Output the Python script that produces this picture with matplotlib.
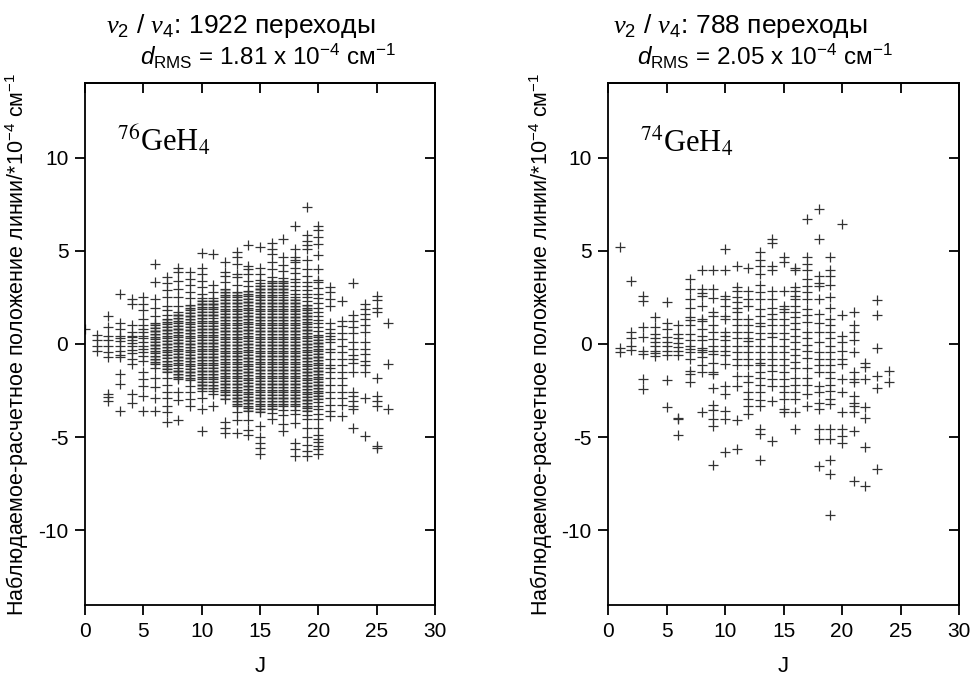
import numpy as np
import matplotlib.pyplot as plt
from matplotlib import rcParams

# Origin-like look: Arial-ish text, Times-like labels for the isotopologue
rcParams['font.family'] = ['Liberation Sans', 'DejaVu Sans']
rcParams['mathtext.fontset'] = 'custom'
rcParams['mathtext.rm'] = 'Liberation Sans'
rcParams['mathtext.it'] = 'Liberation Sans:italic'
rcParams['mathtext.cal'] = 'Liberation Serif:italic'
rcParams['axes.unicode_minus'] = False


# residuals (obs - calc, 1e-4 cm-1) read column by column, one list per J
j76 = [0, 1, 2, 3, 4, 5, 6, 7, 8, 9, 10, 11, 12, 13,
       14, 15, 16, 17, 18, 19, 20, 21, 22, 23, 24, 25, 26]
res76 = [
    [0.8],
    [0.5, 0.2, -0.1, -0.4],
    [1.5, 0.9, 0.45, 0.2, -0.1, -0.45, -0.7, -2.7, -2.85, -3.05],
    [2.7, 1.15, 0.8, 0.45, 0.3, 0.15, -0.1, -0.35, -0.6, -0.7, -1.6, -2.15, -3.6],
    [2.4, 2.15, 1.0, 0.65, 0.45, 0.35, 0.2, 0.05, -0.1, -0.3, -0.5, -0.8, -1.1, -2.7, -3.15],
    [2.5, 2.15, 1.8, 1.35, 1.0, 0.8, 0.65, 0.45, 0.3, 0.1, -0.1, -0.25, -0.45, -0.65, -0.9,
     -1.5, -1.9, -2.25, -2.8, -3.6],
    [4.3, 3.3, 2.4, 1.95, 1.5, 1.15, 1.0, 0.85, 0.7, 0.55, 0.4, 0.25, 0.1, -0.05, -0.2,
     -0.35, -0.5, -0.65, -0.8, -0.95, -1.1, -1.3, -1.8, -2.3, -2.9, -3.6],
    [3.6, 3.25, 2.9, 2.5, 2.05, 1.8, 1.55, 1.35, 1.2, 1.05, 0.9, 0.75, 0.6, 0.45, 0.3, 0.15,
     0.0, -0.15, -0.3, -0.45, -0.6, -0.75, -0.9, -1.05, -1.2, -1.35, -1.5, -1.85, -2.2,
     -2.55, -2.9, -3.3, -3.65, -4.2],
    [4.05, 3.85, 3.4, 2.95, 2.5, 2.05, 1.7, 1.55, 1.4, 1.25, 1.1, 0.95, 0.8, 0.65, 0.5, 0.35,
     0.2, 0.05, -0.1, -0.25, -0.4, -0.55, -0.7, -0.85, -1.0, -1.15, -1.3, -1.45, -1.6, -1.75,
     -1.9, -2.6, -3.0, -4.1],
    [3.85, 3.5, 3.15, 2.8, 2.45, 2.1, 1.95, 1.8, 1.65, 1.5, 1.35, 1.2, 1.05, 0.9, 0.75, 0.6,
     0.45, 0.3, 0.15, 0.0, -0.15, -0.3, -0.45, -0.6, -0.75, -0.9, -1.05, -1.2, -1.35, -1.5,
     -1.65, -1.8, -1.95, -2.25, -2.6, -2.95, -3.3],
    [4.9, 4.1, 3.75, 3.4, 3.05, 2.7, 2.45, 2.3, 2.15, 2.0, 1.85, 1.7, 1.55, 1.4, 1.25, 1.1,
     0.95, 0.8, 0.65, 0.5, 0.35, 0.2, 0.05, -0.1, -0.25, -0.4, -0.55, -0.7, -0.85, -1.0,
     -1.15, -1.3, -1.45, -1.6, -1.75, -1.9, -2.05, -2.2, -2.35, -2.5, -2.9, -3.5, -4.65],
    [4.85, 3.15, 2.8, 2.45, 2.3, 2.15, 2.0, 1.85, 1.7, 1.55, 1.4, 1.25, 1.1, 0.95, 0.8, 0.65,
     0.5, 0.35, 0.2, 0.05, -0.1, -0.25, -0.4, -0.55, -0.7, -0.85, -1.0, -1.15, -1.3, -1.45,
     -1.6, -1.75, -1.9, -2.05, -2.2, -2.35, -2.5, -2.7, -3.3],
    [4.4, 3.85, 3.65, 3.3, 2.95, 2.8, 2.65, 2.5, 2.35, 2.2, 2.05, 1.9, 1.75, 1.6, 1.45, 1.3,
     1.15, 1.0, 0.85, 0.7, 0.55, 0.4, 0.25, 0.1, -0.05, -0.2, -0.35, -0.5, -0.65, -0.8,
     -0.95, -1.1, -1.25, -1.4, -1.55, -1.7, -1.85, -2.0, -2.15, -2.3, -2.45, -2.6, -2.75,
     -2.95, -4.2, -4.5, -4.75],
    [4.95, 4.65, 4.3, 3.75, 3.6, 3.15, 2.8, 2.65, 2.5, 2.35, 2.2, 2.05, 1.9, 1.75, 1.6, 1.45,
     1.3, 1.15, 1.0, 0.85, 0.7, 0.55, 0.4, 0.25, 0.1, -0.05, -0.2, -0.35, -0.5, -0.65, -0.8,
     -0.95, -1.1, -1.25, -1.4, -1.55, -1.7, -1.85, -2.0, -2.15, -2.3, -2.45, -2.6, -2.75,
     -2.9, -3.05, -3.2, -3.35, -3.65, -4.1, -4.75],
    [5.3, 4.2, 4.0, 3.75, 3.4, 3.1, 2.85, 2.7, 2.55, 2.4, 2.25, 2.1, 1.95, 1.8, 1.65, 1.5,
     1.35, 1.2, 1.05, 0.9, 0.75, 0.6, 0.45, 0.3, 0.15, 0.0, -0.15, -0.3, -0.45, -0.6, -0.75,
     -0.9, -1.05, -1.2, -1.35, -1.5, -1.65, -1.8, -1.95, -2.1, -2.25, -2.4, -2.55, -2.7,
     -2.85, -3.0, -3.15, -3.3, -3.45, -3.6, -4.1, -4.6, -4.9],
    [5.2, 4.05, 3.75, 3.45, 3.25, 3.1, 2.95, 2.8, 2.65, 2.5, 2.35, 2.2, 2.05, 1.9, 1.75, 1.6,
     1.45, 1.3, 1.15, 1.0, 0.85, 0.7, 0.55, 0.4, 0.25, 0.1, -0.05, -0.2, -0.35, -0.5, -0.65,
     -0.8, -0.95, -1.1, -1.25, -1.4, -1.55, -1.7, -1.85, -2.0, -2.15, -2.3, -2.45, -2.6,
     -2.75, -2.9, -3.05, -3.2, -3.35, -3.5, -3.65, -4.4, -5.0, -5.3, -5.6, -5.9],
    [5.4, 5.1, 4.85, 4.4, 4.0, 3.6, 3.4, 3.25, 3.1, 2.95, 2.8, 2.65, 2.5, 2.35, 2.2, 2.05,
     1.9, 1.75, 1.6, 1.45, 1.3, 1.15, 1.0, 0.85, 0.7, 0.55, 0.4, 0.25, 0.1, -0.05, -0.2,
     -0.35, -0.5, -0.65, -0.8, -0.95, -1.1, -1.25, -1.4, -1.55, -1.7, -1.85, -2.0, -2.15,
     -2.3, -2.45, -2.6, -2.75, -2.9, -3.05, -3.2, -3.35, -3.5, -3.7, -4.05],
    [5.65, 4.65, 4.25, 3.9, 3.55, 3.4, 3.25, 3.1, 2.95, 2.8, 2.65, 2.5, 2.35, 2.2, 2.05, 1.9,
     1.75, 1.6, 1.45, 1.3, 1.15, 1.0, 0.85, 0.7, 0.55, 0.4, 0.25, 0.1, -0.05, -0.2, -0.35,
     -0.5, -0.65, -0.8, -0.95, -1.1, -1.25, -1.4, -1.55, -1.7, -1.85, -2.0, -2.15, -2.3,
     -2.45, -2.6, -2.75, -2.9, -3.05, -3.2, -3.35, -3.55, -3.8, -4.3, -4.65],
    [6.35, 5.1, 4.65, 4.5, 4.4, 4.1, 3.8, 3.5, 3.3, 3.1, 2.9, 2.7, 2.5, 2.35, 2.2, 2.05, 1.9,
     1.75, 1.6, 1.45, 1.3, 1.15, 1.0, 0.85, 0.7, 0.55, 0.4, 0.25, 0.1, -0.05, -0.2, -0.35,
     -0.5, -0.65, -0.8, -0.95, -1.1, -1.25, -1.4, -1.55, -1.7, -1.85, -2.0, -2.15, -2.3,
     -2.45, -2.6, -2.75, -2.9, -3.05, -3.2, -3.35, -3.55, -3.75, -4.25, -5.3, -5.65, -6.0],
    [7.35, 5.85, 5.55, 5.3, 5.1, 4.5, 4.0, 3.65, 3.3, 3.1, 2.9, 2.7, 2.5, 2.3, 2.1, 1.95,
     1.8, 1.65, 1.5, 1.35, 1.2, 1.05, 0.9, 0.75, 0.6, 0.45, 0.3, 0.15, 0.0, -0.15, -0.3,
     -0.45, -0.6, -0.75, -0.9, -1.05, -1.2, -1.35, -1.5, -1.65, -1.8, -1.95, -2.1, -2.25,
     -2.4, -2.55, -2.7, -2.85, -3.0, -3.15, -3.3, -3.45, -3.6, -3.8, -4.05, -4.5, -5.0,
     -5.4, -5.75, -6.0],
    [6.35, 6.1, 5.75, 5.35, 4.75, 4.0, 3.45, 3.3, 3.0, 2.7, 2.45, 2.2, 1.95, 1.7, 1.5, 1.3,
     1.1, 0.9, 0.7, 0.5, 0.35, 0.2, 0.05, -0.1, -0.25, -0.4, -0.55, -0.7, -0.85, -1.0,
     -1.15, -1.3, -1.45, -1.6, -1.75, -1.9, -2.05, -2.2, -2.35, -2.5, -2.65, -2.8, -2.95,
     -3.1, -3.3, -3.5, -3.75, -4.0, -4.5, -4.9, -5.1, -5.25, -5.45, -5.65, -5.9],
    [3.05, 2.8, 2.4, 2.05, 1.15, 0.8, 0.6, 0.45, 0.25, 0.1, -0.25, -0.45, -0.8, -1.15, -1.3,
     -1.5, -1.85, -2.2, -2.55, -2.9, -3.25, -3.6, -3.85],
    [2.3, 1.25, 0.95, 0.6, 0.25, -0.1, -0.45, -0.8, -1.15, -1.5, -1.85, -2.2, -2.55, -2.9,
     -3.25, -3.85],
    [3.25, 1.55, 1.25, 0.9, 0.6, 0.1, -0.25, -0.6, -0.8, -1.0, -1.5, -2.6, -2.8, -3.05,
     -3.3, -3.5, -4.5],
    [2.15, 1.9, 1.6, 1.35, 1.0, 0.65, 0.1, -0.25, -0.55, -0.9, -1.15, -1.5, -2.9, -4.95],
    [2.6, 2.35, 1.95, 1.7, -1.8, -2.8, -3.05, -3.3, -5.45, -5.6],
    [1.1, -1.05, -3.5],
]

# the crowded middle of the 76GeH4 columns: further transitions that sit
# between the ones above (they merge into the grey blocks)
j76_core = [6, 7, 8, 9, 10, 11, 12, 13, 14, 15, 16, 17, 18, 19, 20]
res76_core = [
    [1.075, 0.925, 0.775, 0.625, 0.475, 0.325, 0.175, 0.025, -0.125, -0.275, -0.425,
     -0.725, -0.875, -1.025],
    [1.275, 1.125, 0.975, 0.825, 0.675, 0.525, 0.375, 0.225, 0.075, -0.075, -0.225,
     -0.375, -0.525, -0.675, -0.975, -1.125, -1.275, -1.425],
    [1.625, 1.475, 1.325, 1.175, 1.025, 0.875, 0.725, 0.575, 0.425, 0.275, 0.125, -0.025,
     -0.175, -0.325, -0.475, -0.625, -0.775, -0.925, -1.075, -1.375, -1.525, -1.675,
     -1.825],
    [2.025, 1.875, 1.725, 1.575, 1.425, 1.275, 1.125, 0.975, 0.825, 0.675, 0.525, 0.375,
     0.225, 0.075, -0.075, -0.225, -0.375, -0.525, -0.675, -0.825, -0.975, -1.125,
     -1.275, -1.425, -1.575, -1.725, -1.875],
    [2.375, 2.225, 2.075, 1.925, 1.775, 1.625, 1.475, 1.325, 1.175, 1.025, 0.875, 0.725,
     0.575, 0.425, 0.275, 0.125, -0.025, -0.175, -0.325, -0.475, -0.625, -0.775, -0.925,
     -1.075, -1.225, -1.375, -1.525, -1.675, -1.825, -1.975, -2.125, -2.275, -2.425],
    [2.375, 2.225, 2.075, 1.925, 1.775, 1.625, 1.475, 1.175, 1.025, 0.875, 0.725, 0.575,
     0.425, 0.275, 0.125, -0.025, -0.175, -0.325, -0.475, -0.625, -0.775, -0.925, -1.075,
     -1.225, -1.375, -1.525, -1.675, -1.825, -1.975, -2.275, -2.425],
    [2.875, 2.725, 2.575, 2.425, 2.275, 2.125, 1.975, 1.825, 1.675, 1.525, 1.375, 1.225,
     1.075, 0.925, 0.775, 0.625, 0.475, 0.325, 0.175, 0.025, -0.125, -0.275, -0.425,
     -0.575, -0.725, -0.875, -1.025, -1.175, -1.325, -1.475, -1.625, -1.775, -1.925,
     -2.075, -2.225, -2.375, -2.525, -2.675, -2.875],
    [2.725, 2.575, 2.425, 2.275, 2.125, 1.975, 1.825, 1.675, 1.525, 1.375, 1.225, 1.075,
     0.925, 0.775, 0.625, 0.475, 0.325, 0.175, 0.025, -0.125, -0.275, -0.425, -0.575,
     -0.725, -0.875, -1.025, -1.175, -1.325, -1.475, -1.625, -1.775, -1.925, -2.075,
     -2.225, -2.375, -2.525, -2.675, -2.825, -2.975, -3.125, -3.275],
    [2.775, 2.625, 2.475, 2.325, 2.175, 2.025, 1.875, 1.725, 1.575, 1.425, 1.275, 1.125,
     0.975, 0.825, 0.675, 0.525, 0.375, 0.225, 0.075, -0.075, -0.225, -0.375, -0.525,
     -0.675, -0.825, -0.975, -1.125, -1.275, -1.425, -1.575, -1.725, -1.875, -2.025,
     -2.175, -2.325, -2.475, -2.625, -2.775, -2.925, -3.075, -3.225, -3.375, -3.525],
    [3.175, 3.025, 2.875, 2.725, 2.575, 2.425, 2.275, 2.125, 1.975, 1.825, 1.675, 1.525,
     1.375, 1.225, 1.075, 0.925, 0.775, 0.625, 0.475, 0.325, 0.175, 0.025, -0.125, -0.275,
     -0.425, -0.575, -0.725, -0.875, -1.025, -1.175, -1.325, -1.475, -1.625, -1.775,
     -1.925, -2.075, -2.225, -2.375, -2.525, -2.675, -2.825, -2.975, -3.125, -3.275,
     -3.425, -3.575],
    [3.325, 3.175, 3.025, 2.875, 2.725, 2.575, 2.425, 2.275, 2.125, 1.975, 1.825, 1.675,
     1.525, 1.375, 1.225, 1.075, 0.925, 0.775, 0.625, 0.475, 0.325, 0.175, 0.025, -0.125,
     -0.275, -0.425, -0.575, -0.725, -0.875, -1.025, -1.175, -1.325, -1.475, -1.625,
     -1.775, -1.925, -2.075, -2.225, -2.375, -2.525, -2.675, -2.825, -2.975, -3.125,
     -3.275, -3.425],
    [3.325, 3.175, 3.025, 2.875, 2.725, 2.425, 2.275, 2.125, 1.975, 1.825, 1.675, 1.525,
     1.375, 1.225, 1.075, 0.925, 0.775, 0.625, 0.475, 0.325, 0.175, 0.025, -0.125, -0.275,
     -0.425, -0.575, -0.725, -0.875, -1.025, -1.175, -1.325, -1.475, -1.625, -1.775,
     -1.925, -2.075, -2.225, -2.375, -2.525, -2.675, -2.825, -2.975, -3.125, -3.275],
    [2.425, 2.275, 2.125, 1.975, 1.825, 1.675, 1.525, 1.375, 1.225, 1.075, 0.925, 0.775,
     0.625, 0.475, 0.325, 0.175, 0.025, -0.125, -0.275, -0.425, -0.575, -0.725, -0.875,
     -1.025, -1.175, -1.325, -1.475, -1.625, -1.775, -1.925, -2.075, -2.225, -2.375,
     -2.525, -2.675, -2.825, -2.975, -3.125, -3.275],
    [2.025, 1.875, 1.725, 1.575, 1.425, 1.275, 1.125, 0.975, 0.825, 0.675, 0.525, 0.375,
     0.225, 0.075, -0.075, -0.225, -0.375, -0.525, -0.675, -0.825, -0.975, -1.125, -1.275,
     -1.425, -1.575, -1.725, -1.875, -2.025, -2.175, -2.325, -2.475, -2.625, -2.775,
     -2.925, -3.075, -3.225, -3.375, -3.525],
    [0.425, 0.275, 0.125, -0.025, -0.175, -0.325, -0.475, -0.625, -0.775, -0.925, -1.075,
     -1.225, -1.375, -1.525, -1.675, -1.825, -1.975, -2.125, -2.275, -2.425, -2.575,
     -2.725, -2.875],
]

j74 = [1, 2, 3, 4, 5, 6, 7, 8, 9, 10, 11, 12,
       13, 14, 15, 16, 17, 18, 19, 20, 21, 22, 23, 24]
res74 = [
    [5.2, -0.2, -0.45],
    [3.4, 0.65, 0.3, -0.1, -0.3],
    [2.6, 2.3, 0.9, 0.35, -0.35, -0.55, -1.9, -2.4],
    [1.45, 0.9, 0.55, 0.3, 0.1, -0.1, -0.35, -0.5, -0.65],
    [2.25, 1.15, 0.8, 0.35, 0.1, -0.1, -0.35, -0.6, -1.95, -3.4],
    [1.0, 0.55, 0.3, 0.05, -0.15, -0.35, -0.6, -3.95, -4.05, -4.9],
    [3.5, 2.95, 2.4, 1.95, 1.45, 1.3, 1.0, 0.55, 0.2, -0.1, -0.25, -0.45, -0.8, -1.45,
     -1.6, -2.05],
    [3.95, 2.95, 2.75, 2.6, 2.05, 1.35, 1.25, 0.8, 0.45, 0.2, -0.2, -0.3, -0.45, -0.7,
     -1.15, -1.5, -3.65],
    [3.95, 2.95, 2.45, 1.7, 1.5, 1.0, 0.65, 0.25, -0.1, -0.35, -0.55, -1.0, -1.5, -1.6,
     -2.35, -3.25, -3.55, -4.05, -4.4, -6.5],
    [5.1, 3.95, 2.6, 2.4, 2.05, 1.5, 1.35, 0.65, 0.45, 0.2, -0.1, -0.35, -0.6, -1.1, -2.25,
     -2.7, -3.6, -4.05, -5.8],
    [4.2, 3.05, 2.85, 2.5, 2.25, 1.95, 1.7, 1.35, 1.0, 0.65, 0.3, -0.1, -0.45, -0.8, -1.15,
     -1.7, -2.25, -4.1, -5.65],
    [4.05, 2.85, 2.4, 2.05, 1.35, 1.0, 0.65, 0.3, 0.15, -0.1, -0.45, -0.8, -1.15, -1.7,
     -2.05, -2.6, -2.95, -3.3, -3.75],
    [4.95, 4.5, 4.2, 3.75, 3.15, 2.8, 2.4, 1.9, 1.5, 1.15, 0.95, 0.6, 0.25, -0.1, -0.45,
     -0.8, -1.0, -1.15, -1.5, -1.85, -2.2, -2.6, -3.0, -3.3, -4.55, -4.85, -6.2],
    [5.65, 5.4, 4.2, 3.95, 2.85, 2.4, 1.95, 1.6, 1.35, 1.0, 0.6, 0.35, -0.1, -0.45, -0.8,
     -1.15, -1.45, -1.9, -2.25, -3.05, -5.2],
    [4.65, 4.4, 2.85, 2.05, 1.85, 1.7, 1.35, 1.0, 0.6, 0.25, -0.1, -0.45, -0.8, -1.15,
     -1.5, -1.9, -2.25, -2.6, -2.95, -3.5, -3.65],
    [4.1, 3.95, 3.05, 2.85, 2.6, 2.4, 2.05, 1.7, 1.45, 1.15, 0.8, 0.45, 0.1, -0.25, -0.6,
     -0.95, -1.3, -1.85, -2.2, -2.6, -2.95, -3.65, -4.55],
    [6.7, 4.65, 4.3, 3.95, 3.5, 3.1, 2.8, 2.4, 1.9, 1.55, 1.2, 0.65, 0.3, -0.05, -0.4,
     -0.75, -1.3, -1.85, -2.2, -2.7, -3.3],
    [7.25, 5.65, 3.65, 3.25, 3.1, 2.4, 1.6, 1.15, 0.65, 0.1, -0.45, -0.8, -1.15, -1.5,
     -2.25, -2.6, -3.15, -3.5, -4.55, -5.1, -6.55],
    [4.65, 3.95, 3.65, 3.15, 2.5, 1.95, 1.35, 1.0, 0.65, 0.3, -0.1, -0.45, -0.8, -1.15,
     -1.5, -1.85, -2.2, -2.5, -2.95, -3.2, -4.55, -5.1, -6.25, -7.0, -9.15],
    [6.45, 1.55, 0.45, 0.1, -0.35, -0.8, -1.1, -1.9, -2.6, -3.65, -4.55, -4.95, -5.3],
    [1.7, 1.0, 0.65, 0.2, -0.45, -1.5, -1.9, -2.05, -2.8, -3.15, -3.3, -3.65, -4.65, -7.35],
    [-1.0, -1.25, -1.9, -3.4, -3.95, -5.55, -7.6],
    [2.35, 1.55, -0.2, -1.7, -2.35, -6.7],
    [-1.45, -2.05],
]

titles76 = [r'$\mathcal{v}_2$ / $\mathcal{v}_4$: 1922 переходы',
            r'$d_{\mathrm{RMS}}$ = 1.81 x 10$^{-4}$ см$^{-1}$']
titles74 = [r'$\mathcal{v}_2$ / $\mathcal{v}_4$: 788 переходы',
            r'$d_{\mathrm{RMS}}$ = 2.05 x 10$^{-4}$ см$^{-1}$']
ylabel = r'Наблюдаемое-расчетное положение линии/*10$^{-4}$ см$^{-1}$'


def flatten(js, res):
    x = np.concatenate([[j] * len(r) for j, r in zip(js, res)])
    y = np.concatenate([r for r in res])
    return x, y


x76, y76 = flatten(j76, res76)
x76c, y76c = flatten(j76_core, res76_core)
x74, y74 = flatten(j74, res74)

fig = plt.figure(figsize=(9.76, 6.77), dpi=100)
ax1 = fig.add_axes([0.0871, 0.1064, 0.3586, 0.7710])
ax2 = fig.add_axes([0.6230, 0.1064, 0.3596, 0.7710])

# crowded crosses blend to grey in the original, so the in-between ones are lighter
ax1.plot(x76c, y76c, '+', color='#a8a8a8', markersize=7.2, markeredgewidth=0.8, zorder=1)

panels = [(ax1, x76, y76, r'$^{76}$GeH$_4$', titles76, 0.247, 0.274, -0.155),
          (ax2, x74, y74, r'$^{74}$GeH$_4$', titles74, 0.758, 0.784, -0.150)]

for ax, x, y, label, titles, tx1, tx2, ylx in panels:
    ax.plot(x, y, '+', color='#333333', markersize=7.2, markeredgewidth=0.9, zorder=2)

    ax.set_xlim(0, 30)
    ax.set_ylim(-14, 14)
    ax.set_xticks([0, 5, 10, 15, 20, 25, 30])
    ax.set_yticks([-10, -5, 0, 5, 10])
    ax.tick_params(axis='both', which='major', direction='out', length=7,
                   width=1.3, labelsize=15, pad=5)
    # Origin style: inward ticks on the top and right spines
    top = ax.secondary_xaxis('top')
    top.set_xticks([0, 5, 10, 15, 20, 25, 30])
    top.tick_params(direction='in', length=7, width=1.3, labeltop=False)
    right = ax.secondary_yaxis('right')
    right.set_yticks([-10, -5, 0, 5, 10])
    right.tick_params(direction='in', length=7, width=1.3, labelright=False)
    for sp in list(ax.spines.values()) + [top.spines['top'], right.spines['right']]:
        sp.set_linewidth(1.3)

    ax.set_xlabel('J', fontsize=16)
    ax.xaxis.set_label_coords(0.5, -0.097)
    ax.set_ylabel(ylabel, fontsize=15.5)
    ax.yaxis.set_label_coords(ylx, 0.5)

    ax.text(0.09, 0.868, label, transform=ax.transAxes, fontsize=22,
            family='Liberation Serif', math_fontfamily='stix', va='baseline')

    fig.text(tx1, 0.951, titles[0], fontsize=19, ha='center', va='baseline')
    fig.text(tx2, 0.904, titles[1], fontsize=17.5, ha='center', va='baseline')

fig.savefig('out.png', dpi=100)
